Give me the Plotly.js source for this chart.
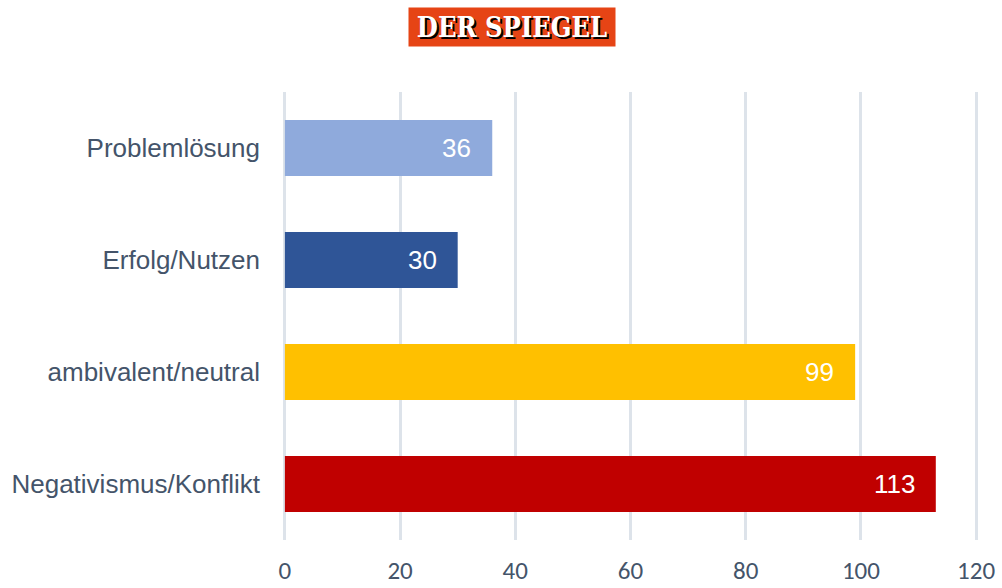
<!DOCTYPE html>
<html>
<head>
<meta charset="utf-8">
<script src="https://cdn.plot.ly/plotly-3.0.1.min.js"></script>
<style>html,body{margin:0;padding:0;background:#fff;}#chart{width:1002px;height:588px;}</style>
</head>
<body>
<div id="chart"></div>
<script>
const categories = ["Negativismus/Konflikt", "ambivalent/neutral", "Erfolg/Nutzen", "Problemlösung"];
const values = [113, 99, 30, 36];
const barColors = ["#c00000", "#ffc000", "#2f5597", "#8faadc"];
const tickValues = [0, 20, 40, 60, 80, 100, 120];
const logoText = "DER SPIEGEL";

const trace = {
  type: "bar",
  orientation: "h",
  y: categories,
  x: values,
  marker: {color: barColors},
  textposition: "none",
  hoverinfo: "none"
};

const valueLabels = categories.map((c, i) => ({
  xref: "x", yref: "y",
  x: values[i], y: c,
  xanchor: "right", yanchor: "middle",
  xshift: -19,
  text: String(values[i]),
  showarrow: false,
  font: {family: "Liberation Sans, Arial, sans-serif", size: 26, color: "#ffffff"}
}));

const logo = {
  xref: "paper", yref: "paper",
  x: 0.5, y: 1,
  xanchor: "center", yanchor: "middle",
  xshift: -119, yshift: 65,
  width: 200, height: 32,
  text: "<b>" + logoText + "</b>",
  showarrow: false,
  bgcolor: "#e64415",
  borderpad: 3,
  font: {family: "DejaVu Serif Condensed, DejaVu Serif, serif", size: 27, color: "#ffffff", shadow: "2px 2px 0px #000000"}
};

const layout = {
  width: 1002,
  height: 588,
  margin: {l: 282, r: 23, t: 92, b: 48},
  paper_bgcolor: "#ffffff",
  plot_bgcolor: "#ffffff",
  bargap: 0.5,
  showlegend: false,
  xaxis: {
    range: [-0.5, 120.5],
    tickvals: tickValues,
    ticktext: tickValues.map(String),
    showgrid: true,
    gridcolor: "#dde3ea",
    gridwidth: 3,
    zeroline: false,
    showline: false,
    ticks: "",
    ticklabelstandoff: 13,
    tickfont: {family: "Carlito, DejaVu Sans Condensed, Liberation Sans Narrow, sans-serif", size: 25, color: "#44546a"},
    fixedrange: true
  },
  yaxis: {
    showgrid: false,
    zeroline: false,
    showline: false,
    ticks: "",
    ticklabelstandoff: 21,
    tickfont: {family: "Liberation Sans, Arial, sans-serif", size: 26, color: "#44546a"},
    fixedrange: true
  },
  annotations: valueLabels.concat([logo])
};

Plotly.newPlot("chart", [trace], layout, {displayModeBar: false, staticPlot: true});
</script>
</body>
</html>
